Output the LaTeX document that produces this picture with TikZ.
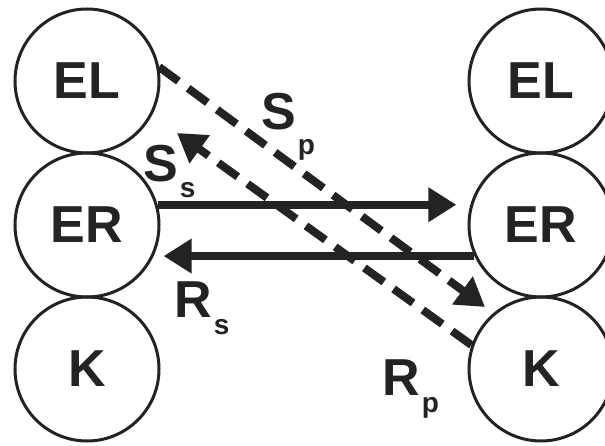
\documentclass[tikz,border=0pt]{standalone}
\usepackage{fontspec}
\setmainfont{Liberation Sans}
\usetikzlibrary{arrows.meta}
\definecolor{ink}{RGB}{35,35,35}
\newcommand\lblsub[3]{#1\kern2pt{\fontsize{28}{28}\selectfont\raisebox{-#3pt}{#2}}}
\begin{document}
\begin{tikzpicture}[x=1pt,y=-1pt,
  circ/.style={circle,draw=ink,line width=3pt,minimum size=144pt,inner sep=0pt,
    font=\fontsize{52}{52}\selectfont\bfseries,text=ink},
  solidarr/.style={draw=ink,line width=8pt,-{Triangle[length=28pt,width=33pt]}},
  dasharr/.style={solidarr,dash pattern=on 24pt off 12pt},
  lab/.style={inner sep=0pt,anchor=base west,font=\fontsize{52}{52}\selectfont\bfseries,text=ink}]
\useasboundingbox (0,0) rectangle (605,446);
% left column
\node[circ] (lEL) at (87,81) {EL};
\node[circ] (lER) at (87,225) {ER};
\node[circ] (lK)  at (87,369) {K};
% right column
\node[circ] (rEL) at (541,81) {EL};
\node[circ] (rER) at (541,225) {ER};
\node[circ] (rK)  at (541,369) {K};
% free ends of the dashed arrows
\coordinate (spEnd) at (485,307);
\coordinate (ssEnd) at (177,133);
% solid arrows
\draw[solidarr,shorten >=14pt] (lER.16) -- (rER.164);
\draw[solidarr,shorten >=10pt] (rER.205) -- (lER.-25);
% dashed arrows
\draw[dasharr] (lEL.11) -- (spEnd);
\draw[dasharr] (rK.161) -- (ssEnd);
% labels
\node[lab] (Sp) at (261,130) {\lblsub{S}{p}{25}};
\node[lab] (Ss) at (143,182) {\lblsub{S}{s}{16}};
\node[lab] (Rs) at (174,318) {\lblsub{R}{s}{17}};
\node[lab] (Rp) at (382,395) {\lblsub{R}{p}{17}};
\end{tikzpicture}
\end{document}
